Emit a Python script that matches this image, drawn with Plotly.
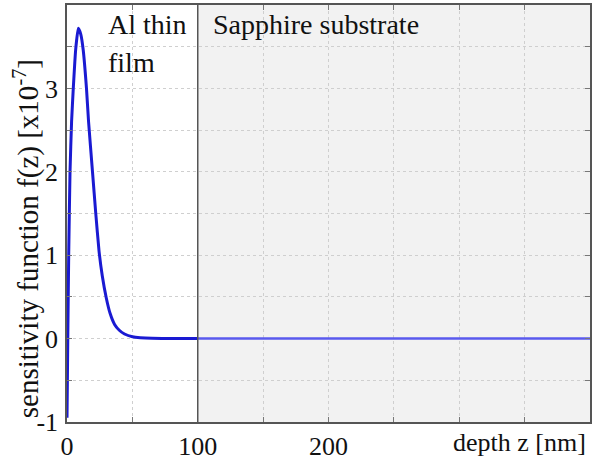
import plotly.graph_objects as go

# depth z [nm] and sensitivity f(z) [x10^-7]
z_film = [0, 0.3, 0.6, 1.3, 2.3, 3.5, 4.8, 6.6, 8.6, 10.5, 12.4, 14.9, 16.5, 19.5,
          22, 24.5, 27, 30, 33, 36.4, 40, 44, 50, 56, 65, 80, 100]
f_film = [-0.95, -0.5, 0.0, 1.0, 2.0, 2.6, 3.0, 3.46, 3.72, 3.65, 3.46, 3.0, 2.6, 2.0,
          1.5, 1.05, 0.75, 0.49, 0.3, 0.17, 0.1, 0.055, 0.022, 0.01, 0.003, 0.0, 0.0]
z_sub = [100, 400]
f_sub = [0.0, 0.0]

x_tick_vals = [0, 100, 200]
x_tick_text = ["0", "100", "200"]
y_tick_vals = [-1, 0, 1, 2, 3]
y_tick_text = ["-1", "0", "1", "2", "3"]

FONT = "Liberation Serif, Times New Roman, serif"

fig = go.Figure()
fig.add_trace(go.Scatter(x=z_film, y=f_film, mode="lines",
                         line=dict(color="#1a1ad2", width=3, shape="spline", smoothing=0.4),
                         showlegend=False))
fig.add_trace(go.Scatter(x=z_sub, y=f_sub, mode="lines",
                         line=dict(color="#5a5aee", width=2.5),
                         showlegend=False))

fig.add_shape(type="rect", xref="x", yref="y", x0=100, x1=400, y0=-1, y1=4,
              fillcolor="#f2f2f2", line=dict(width=0), layer="below")
fig.add_shape(type="line", xref="x", yref="y", x0=100, x1=100, y0=-1, y1=4,
              line=dict(color="#555555", width=1.5))

fig.add_annotation(x=0.074, y=0.995, xref="paper", yref="paper", text="Al thin",
                   showarrow=False, xanchor="left", yanchor="top",
                   font=dict(family=FONT, size=28, color="#111"))
fig.add_annotation(x=0.074, y=0.905, xref="paper", yref="paper", text="film",
                   showarrow=False, xanchor="left", yanchor="top",
                   font=dict(family=FONT, size=28, color="#111"))
fig.add_annotation(x=0.275, y=0.995, xref="paper", yref="paper", text="Sapphire substrate",
                   showarrow=False, xanchor="left", yanchor="top",
                   font=dict(family=FONT, size=28, color="#111"))
fig.add_annotation(x=0.997, y=-0.01, xref="paper", yref="paper", text="depth z [nm]",
                   showarrow=False, xanchor="right", yanchor="top",
                   font=dict(family=FONT, size=26, color="#111"))
fig.add_annotation(x=-0.077, y=0.44, xref="paper", yref="paper",
                   text="sensitivity function f(z) [x10<sup>-7</sup>]", textangle=-90,
                   showarrow=False, xanchor="center", yanchor="middle",
                   font=dict(family=FONT, size=29, color="#111"))

grid = dict(showgrid=True, gridcolor="#cfcfcf", griddash="dot", gridwidth=1)

fig.update_layout(
    width=592, height=461,
    margin=dict(l=67, r=0, t=5, b=35),
    paper_bgcolor="white", plot_bgcolor="white",
    font=dict(family=FONT, size=26, color="#111"),
    xaxis=dict(range=[0, 400], tickvals=x_tick_vals, ticktext=x_tick_text,
               ticks="inside", ticklen=5, tickcolor="#777", showline=True,
               linecolor="#555", linewidth=1.5, mirror="ticks",
               minor=dict(dtick=50, tick0=0, ticks="inside", ticklen=5, tickcolor="#777", **grid),
               zeroline=False, tickfont=dict(family=FONT, size=26), **grid),
    yaxis=dict(range=[-1, 4], tickvals=y_tick_vals, ticktext=y_tick_text,
               ticks="inside", ticklen=5, tickcolor="#777", showline=True,
               linecolor="#555", linewidth=1.5, mirror="ticks",
               minor=dict(dtick=0.5, tick0=0, ticks="inside", ticklen=5, tickcolor="#777", **grid),
               zeroline=False, tickfont=dict(family=FONT, size=26), ticklabelstandoff=2,
               **grid),
)

fig.write_html("out.html")
